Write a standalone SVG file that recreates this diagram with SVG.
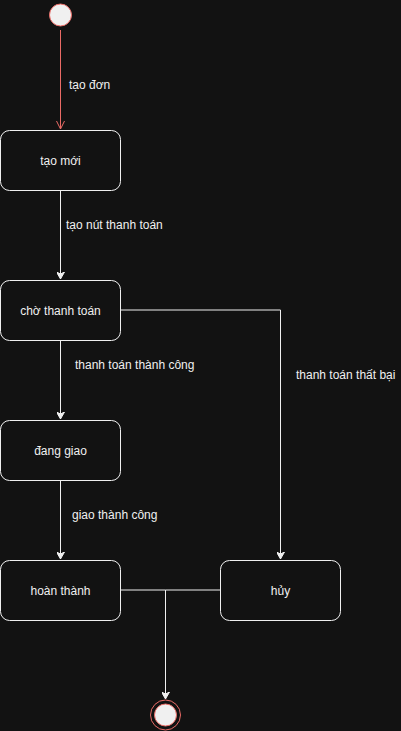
<svg xmlns="http://www.w3.org/2000/svg" width="401" height="731" viewBox="0 0 401 731">
<style>
.bg{fill:#121212}
.node{fill:#121212;stroke:#f0f0f0;stroke-width:1}
.t{font-family:"Liberation Sans",Arial,sans-serif;font-size:12px;fill:#f0f0f0;text-anchor:middle}
.lbl{font-family:"Liberation Sans",Arial,sans-serif;font-size:12px;fill:#f0f0f0}
.edge{fill:none;stroke:#f0f0f0;stroke-width:1}
.red{fill:none;stroke:#ea6b66;stroke-width:1}
</style>
<defs>
<marker id="blk" markerWidth="8" markerHeight="8" refX="7" refY="4" orient="auto" markerUnits="userSpaceOnUse">
<path d="M0,0 L7,4 L0,8 L2,4 Z" fill="#f0f0f0" stroke="#f0f0f0" stroke-width="1"/>
</marker>
<marker id="open" markerWidth="10" markerHeight="10" refX="8" refY="5" orient="auto" markerUnits="userSpaceOnUse">
<path d="M0,1 L8,5 L0,9" fill="none" stroke="#ea6b66" stroke-width="1"/>
</marker>
</defs>
<rect class="bg" x="0" y="0" width="401" height="731"/>
<g id="connectors">
<path class="red" d="M60.5,30 L60.5,129" marker-end="url(#open)"/>
<path class="edge" d="M60.5,190 L60.5,279" marker-end="url(#blk)"/>
<path class="edge" d="M120.5,310 L280.5,310 L280.5,559" marker-end="url(#blk)"/>
<path class="edge" d="M60.5,340 L60.5,419" marker-end="url(#blk)"/>
<path class="edge" d="M60.5,480 L60.5,559" marker-end="url(#blk)"/>
<path class="edge" d="M120.5,590 L165.5,590 L165.5,699" marker-end="url(#blk)"/>
<path class="edge" d="M220.5,590 L165.5,590"/>
<text class="lbl" x="69" y="89">tạo đơn</text>
<text class="lbl" x="66" y="229">tạo nút thanh toán</text>
<text class="lbl" x="75" y="369">thanh toán thành công</text>
<text class="lbl" x="296" y="379">thanh toán thất bại</text>
<text class="lbl" x="72" y="519">giao thành công</text>
</g>
<g id="start">
<circle cx="60.5" cy="15" r="11" fill="#f0f0f0" stroke="#ea6b66"/>
</g>
<g id="tao-moi">
<rect class="node" x="0.5" y="130.5" width="120" height="60" rx="9"/>
<text class="t" x="60.5" y="164.5">tạo mới</text>
</g>
<g id="cho-thanh-toan">
<rect class="node" x="0.5" y="280.5" width="120" height="60" rx="9"/>
<text class="t" x="60.5" y="314.5">chờ thanh toán</text>
</g>
<g id="dang-giao">
<rect class="node" x="0.5" y="420.5" width="120" height="60" rx="9"/>
<text class="t" x="60.5" y="454.5">đang giao</text>
</g>
<g id="hoan-thanh">
<rect class="node" x="0.5" y="560.5" width="120" height="60" rx="9"/>
<text class="t" x="60.5" y="594.5">hoàn thành</text>
</g>
<g id="huy">
<rect class="node" x="220.5" y="560.5" width="120" height="60" rx="9"/>
<text class="t" x="280.5" y="594.5">hủy</text>
</g>
<g id="end">
<circle cx="165.5" cy="715" r="15" fill="#121212" stroke="#ea6b66"/>
<circle cx="165.5" cy="715" r="11" fill="#f0f0f0" stroke="#ea6b66"/>
</g>
</svg>
